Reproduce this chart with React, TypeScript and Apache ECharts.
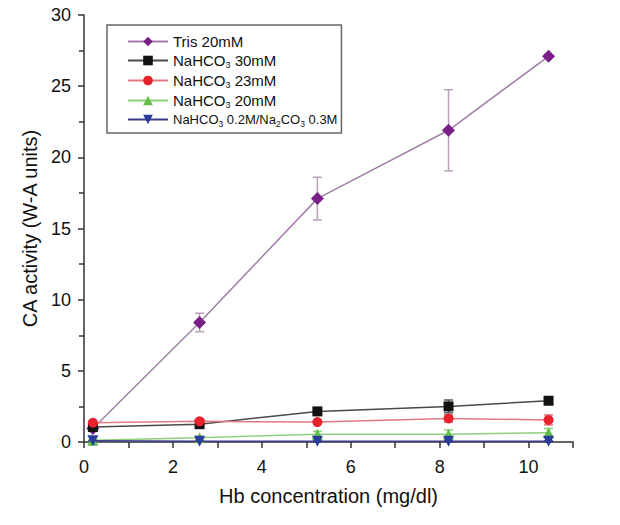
import React, { useEffect, useRef } from "react";
import * as echarts from "echarts";

const xValues = [0.2, 2.6, 5.25, 8.2, 10.45];
const seriesNames = [
  "Tris 20mM",
  "NaHCO3 30mM",
  "NaHCO3 23mM",
  "NaHCO3 20mM",
  "NaHCO3 0.2M/Na2CO3 0.3M",
];
const tris = [0.95, 8.4, 17.1, 21.9, 27.1];
const trisErr = [0.1, 0.65, 1.5, 2.85, 0.1];
const nahco30 = [1.05, 1.25, 2.15, 2.5, 2.9];
const nahco30Err = [0.1, 0.1, 0.15, 0.45, 0.2];
const nahco23 = [1.35, 1.45, 1.4, 1.65, 1.55];
const nahco23Err = [0.15, 0.15, 0.1, 0.25, 0.35];
const nahco20 = [0.12, 0.3, 0.55, 0.55, 0.65];
const nahco20Err = [0.05, 0.1, 0.2, 0.3, 0.3];
const carbonate = [0.08, 0.05, 0.05, 0.05, 0.05];
const carbonateErr = [0.03, 0.03, 0.03, 0.03, 0.03];

const FONT = "Liberation Sans, Arial, sans-serif";

const styles = [
  { symbol: "diamond", size: 13, marker: "#7a1f88", line: "#a27ea9", err: "#b8a0bb" },
  { symbol: "rect", size: 10, marker: "#111111", line: "#4a4a4a", err: "#555555" },
  { symbol: "circle", size: 10, marker: "#e8222a", line: "#e07a82", err: "#e07a82" },
  { symbol: "triangle", size: 11, marker: "#62bf48", line: "#8fd07c", err: "#8fd07c" },
  { symbol: "path://M0,0 L10,0 L5,9 Z", size: 11, marker: "#2a3c9c", line: "#3a3a88", err: "#3a3a88" },
];

const values = [tris, nahco30, nahco23, nahco20, carbonate];
const errors = [trisErr, nahco30Err, nahco23Err, nahco20Err, carbonateErr];

function legendFormatter(name: string) {
  if (name.indexOf("Na2CO3") >= 0) {
    const s = name
      .replace(/NaHCO3/g, "}{ssub|3}{sm|")
      .replace(/Na2CO3/g, "Na}{ssub|2}{sm|CO}{ssub|3}{sm|");
    return ("{sm|NaHCO" + s + "}").replace(/\{sm\|\}/g, "");
  }
  return name.replace(/NaHCO3/g, "NaHCO{sub|3}");
}

export default function App() {
  const ref = useRef<HTMLDivElement>(null);
  useEffect(() => {
    if (!ref.current) return;
    const chart = echarts.init(ref.current, undefined, { renderer: "svg" });
    const series: any[] = [];
    seriesNames.forEach((name, i) => {
      const st = styles[i];
      series.push({
        name,
        type: "line",
        data: xValues.map((x, j) => [x, values[i][j]]),
        symbol: st.symbol,
        symbolSize: st.size,
        itemStyle: { color: st.marker },
        lineStyle: { color: st.line, width: 1.5 },
        z: 3 + i,
      });
      series.push({
        name: name + " err",
        type: "custom",
        data: xValues.map((x, j) => [x, values[i][j], errors[i][j]]),
        z: 2,
        renderItem: (params: any, api: any) => {
          const x = api.value(0);
          const y = api.value(1);
          const e = api.value(2);
          const hi = api.coord([x, y + e]);
          const lo = api.coord([x, y - e]);
          const cap = 4.5;
          const style = { stroke: st.err, lineWidth: 1.5 };
          return {
            type: "group",
            children: [
              { type: "line", shape: { x1: hi[0], y1: hi[1], x2: lo[0], y2: lo[1] }, style },
              { type: "line", shape: { x1: hi[0] - cap, y1: hi[1], x2: hi[0] + cap, y2: hi[1] }, style },
              { type: "line", shape: { x1: lo[0] - cap, y1: lo[1], x2: lo[0] + cap, y2: lo[1] }, style },
            ],
          };
        },
      });
    });

    chart.setOption({
      animation: false,
      backgroundColor: "#ffffff",
      grid: { left: 84, right: 47, top: 15, bottom: 83, containLabel: false, outerBoundsMode: "none" },
      legend: {
        data: seriesNames,
        orient: "vertical",
        left: 107,
        top: 25,
        padding: [9, 4, 5, 20],
        itemWidth: 40,
        itemHeight: 12,
        itemGap: 4,
        borderColor: "#666666",
        borderWidth: 1.5,
        backgroundColor: "#ffffff",
        formatter: legendFormatter,
        textStyle: {
          fontFamily: FONT,
          fontSize: 15,
          color: "#111111",
          rich: {
            sub: { fontFamily: FONT, fontSize: 9, verticalAlign: "bottom", padding: [8, 0, 0, 0], color: "#111111" },
            sm: { fontFamily: FONT, fontSize: 13, color: "#111111" },
            ssub: { fontFamily: FONT, fontSize: 8.5, verticalAlign: "bottom", padding: [8, 0, 0, 0], color: "#111111" },
          },
        },
      },
      xAxis: {
        type: "value",
        min: 0,
        max: 11,
        interval: 1,
        name: "Hb concentration (mg/dl)",
        nameLocation: "middle",
        nameGap: 44,
        nameTextStyle: { fontFamily: FONT, fontSize: 20, color: "#111111" },
        axisLine: { show: true, onZero: false, lineStyle: { color: "#333333", width: 1.5 } },
        axisTick: { show: true, inside: false, length: 6, lineStyle: { color: "#333333", width: 1.5 } },
        axisLabel: {
          fontFamily: FONT,
          fontSize: 18,
          color: "#111111",
          margin: 16,
          formatter: (v: number) => (v % 2 === 0 && v <= 10 ? String(v) : ""),
        },
        splitLine: { show: false },
      },
      yAxis: {
        type: "value",
        min: 0,
        max: 30,
        interval: 5,
        name: "CA activity (W-A units)",
        nameLocation: "middle",
        nameGap: 38,
        nameTextStyle: { fontFamily: FONT, fontSize: 20, color: "#111111" },
        axisLine: { show: true, lineStyle: { color: "#333333", width: 1.5 } },
        axisTick: { show: true, inside: false, length: 6, lineStyle: { color: "#333333", width: 1.5 } },
        minorTick: { show: true, splitNumber: 2, length: 5, lineStyle: { color: "#333333", width: 1.5 } },
        axisLabel: { fontFamily: FONT, fontSize: 18, color: "#111111", margin: 13 },
        splitLine: { show: false },
      },
      series,
    });
    return () => chart.dispose();
  }, []);
  return <div ref={ref} style={{ position: "absolute", left: 0, top: 0, width: 620, height: 525 }} />;
}
